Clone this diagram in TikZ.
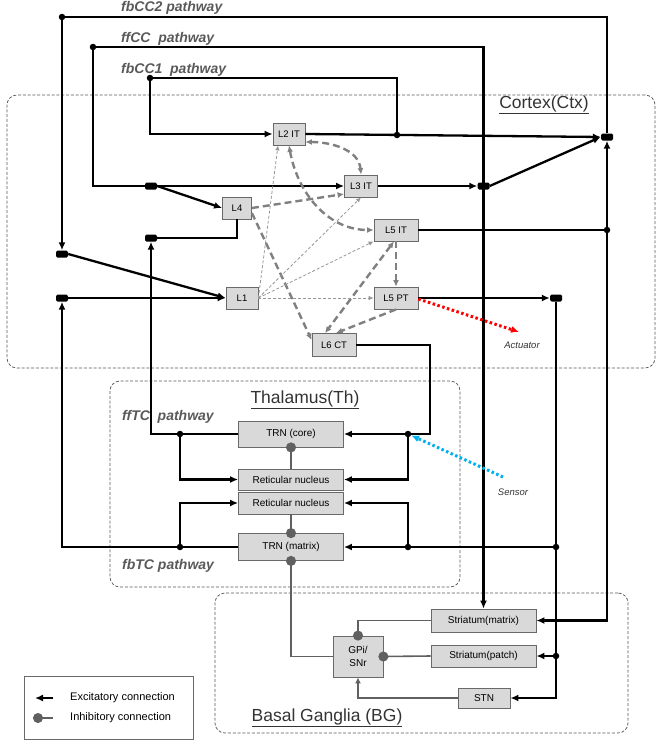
\documentclass[tikz,border=0pt]{standalone}
\usepackage{fontspec}
\setmainfont{Liberation Sans}
\usetikzlibrary{arrows.meta,positioning}
\definecolor{boxgray}{RGB}{217,217,217}
\definecolor{edgegray}{RGB}{105,105,105}
\definecolor{textgray}{RGB}{89,89,89}
\definecolor{inhgray}{RGB}{96,96,96}
\definecolor{dashgray}{RGB}{128,128,128}
\definecolor{thingray}{RGB}{150,150,150}
\definecolor{sensorblue}{RGB}{0,176,240}
\tikzset{%
  >={Latex[width=7pt,length=8pt]},
  gtip/.tip={Latex[width=6pt,length=6.5pt]},
  % Specifications for style of nodes:
         cell/.style = {rectangle, draw=edgegray, fill=boxgray, line width=0.8pt,
                        minimum height=22pt, inner sep=1pt,
                        font=\fontsize{9.5}{11}\selectfont},
      nucleus/.style = {cell, minimum width=105pt,
                        font=\fontsize{10}{13}\selectfont},
     junction/.style = {rectangle, rounded corners=1.5pt, fill=black,
                        minimum width=12pt, minimum height=7pt, inner sep=0pt},
          tap/.style = {circle, fill=black, minimum size=6.5pt, inner sep=0pt},
       region/.style = {draw=black!65, line width=0.75pt,
                        dash pattern=on 3pt off 1.8pt, rounded corners=10pt},
     areaname/.style = {text=black!80, font=\fontsize{17.5}{20}\selectfont},
      pathway/.style = {anchor=base west, inner sep=0pt, text=textgray,
                        font=\fontsize{14}{16}\selectfont\bfseries\itshape},
          cue/.style = {text=black!80, font=\fontsize{9.5}{11}\selectfont\itshape},
   legendtext/.style = {anchor=west, inner sep=0pt, font=\fontsize{11}{13}\selectfont},
  % Specifications for style of connections:
          exc/.style = {draw=black, line width=2.3pt, ->},
         wire/.style = {draw=black, line width=2.3pt},
          inh/.style = {draw=inhgray, line width=1.6pt,
                        -{Circle[length=10pt]}, shorten >=-5pt},
       inhexc/.style = {draw=inhgray, line width=1.6pt, -{Latex[width=6pt,length=6pt]}},
        intra/.style = {draw=dashgray, line width=2.4pt,
                        dash pattern=on 7pt off 4pt, -gtip},
     intratwo/.style = {intra, gtip-gtip},
        faint/.style = {draw=thingray, line width=0.8pt, dash pattern=on 3pt off 2pt,
                        -{Latex[width=4.5pt,length=5pt]}},
      actuate/.style = {draw=red, line width=3pt, dash pattern=on 2.5pt off 2.5pt,
                        -{Latex[width=7pt,length=8pt]}},
        sense/.style = {actuate, draw=sensorblue},
}
\begin{document}
\begin{tikzpicture}[x=1pt, y=-1pt]
  \useasboundingbox (0,0) rectangle (661,744);
  % Areas
  \node[region, minimum width=648pt, minimum height=273pt] (ctx) at (331,231.5) {};
  \node[region, minimum width=350pt, minimum height=206pt] (th) at (285,484) {};
  \node[region, minimum width=413pt, minimum height=140pt] (bg) at (421.5,663) {};
  \node[areaname] (ctxname) at (544,105) {\underline{Cortex(Ctx)}};
  \node[areaname] (thname) at (305,400) {\underline{Thalamus(Th)}};
  \node[areaname] (bgname) at (327,718) {\underline{Basal Ganglia (BG)}};
  \node[pathway] (fbcc2) at (121,12) {fbCC2 pathway};
  \node[pathway] (ffcc) at (121,42) {ffCC~ pathway};
  \node[pathway] (fbcc1) at (121,73) {fbCC1~ pathway};
  \node[pathway] (fftc) at (122,420) {ffTC~ pathway};
  \node[pathway] (fbtc) at (122,569) {fbTC pathway};

  % Specification of nodes (position, etc.)
  \node[cell, minimum width=32pt] (L2IT) at (289,134) {L2 IT};
  \node[cell, minimum width=33pt] (L3IT) at (361,186) {L3 IT};
  \node[cell, minimum width=29pt] (L4)   at (237,208) {L4};
  \node[cell, minimum width=44pt] (L5IT) at (396,230) {L5 IT};
  \node[cell, minimum width=32pt] (L1)   at (242,298) {L1};
  \node[cell, minimum width=44pt] (L5PT) at (396,298) {L5 PT};
  \node[cell, minimum width=44pt, minimum height=23pt] (L6CT) at (334,345) {L6 CT};
  % thalamus
  \node[nucleus, minimum height=26pt] (TRNc) at (291,434) {TRN (core)};
  \node[nucleus, minimum height=21pt] (ret1) at (291,479.5) {Reticular nucleus};
  \node[nucleus] (ret2) at (291,503) {Reticular nucleus};
  \node[nucleus, minimum height=27pt] (TRNm) at (291,547) {TRN (matrix)};
  % basal ganglia
  \node[nucleus, minimum height=23pt] (strmx) at (483.5,620.5) {Striatum(matrix)};
  \node[nucleus] (strpt) at (483.5,656) {Striatum(patch)};
  \node[nucleus, minimum width=52pt, minimum height=20pt] (STN) at (484,698) {STN};
  \node[nucleus, minimum width=50pt, minimum height=41pt, align=center] (GPi) at (358,656.5) {GPi/\\SNr};
  % junctions and branch points
  \node[junction] (jTR) at (607,137) {};
  \node[junction] (jL3) at (483.5,186) {};
  \node[junction] (jFF) at (151,186) {};
  \node[junction] (jL4) at (151,238) {};
  \node[junction] (jLA) at (62,254) {};
  \node[junction] (jLB) at (62,298) {};
  \node[junction] (jPT) at (556,298) {};
  \node[tap] (d2)     at (62,17) {};
  \node[tap] (dFF)    at (93,47) {};
  \node[tap] (d1)     at (150,78) {};
  \node[tap] (d1b)    at (397,135) {};
  \node[tap] (dL5)    at (607,230) {};
  \node[tap] (dcore)  at (180,434) {};
  \node[tap] (dcoreR) at (408,434) {};
  \node[tap] (dmat)   at (180,547) {};
  \node[tap] (dmatR)  at (408,547) {};
  \node[tap] (dPT)    at (556,547) {};
  \node[tap] (dpatch) at (556,656) {};
  \coordinate (bend6) at (430,434);

  % Specification of lines between nodes specified above
  % cortico-cortical pathways
  \draw[exc] (L2IT.east) -- (jTR.west);
  \draw[exc] (jL3.east) -- (jTR.west);
  \draw[exc] (L3IT.east) -- (jL3.west);
  \draw[exc] (dL5) -- (jTR.south);
  \draw[wire] (L5IT.east) -- (dL5);
  \draw[exc] (jTR.north) |- (d2) -- (jLA.north);
  \draw[exc] (dFF) -| (strmx.north);
  \draw[exc] (dFF) |- (L3IT.west);
  \draw[exc] (d1b) |- (d1) |- (L2IT.west);
  \draw[exc] (jFF.east) -- (L4.west);
  \draw[wire] (L4.south) |- (jL4.east);
  \draw[exc] (jLA.east) -- (L1.west);
  \draw[exc] (jLB.east) -- (L1.west);
  \draw[exc] (L5PT.east) -- (jPT.west);
  \draw[exc] (dL5) |- (strmx.east);
  % thalamo-cortical pathways
  \draw[exc] (TRNc.west) -| (jL4.south);
  \draw[exc] (dcore) |- (ret1.west);
  \draw[exc] (TRNm.west) -| (jLB.south);
  \draw[exc] (dmat) |- (ret2.west);
  \draw[exc] (L6CT.east) -| (bend6) -- (TRNc.east);
  \draw[exc] (dcoreR) |- (ret1.east);
  \draw[exc] (dPT) -- (TRNm.east);
  \draw[exc] (dmatR) |- (ret2.east);
  \draw[wire] (jPT.south) -- (dPT);
  \draw[exc] (dPT) |- (STN.east);
  \draw[exc] (dpatch) -- (strpt.east);
  % inhibitory
  \draw[inh] (ret1.north) -- (TRNc.south);
  \draw[inh] (ret2.south) -- (TRNm.north);
  \draw[inh] (GPi.west) -| (TRNm.south);
  \draw[inh] (strmx.west) -| (GPi.north);
  \draw[inh] (strpt.west) -- (GPi.east);
  \draw[inhexc] (STN.west) -| (GPi.south);
  % within the cortex
  \draw[intratwo] ([yshift=-8pt]L2IT.east) to[out=0, in=95] (L3IT.north);
  \draw[intratwo] (L2IT.south) to[out=-80, in=180] (L5IT.west);
  \draw[intra] (L4.east) -- ([yshift=-8pt]L3IT.west);
  \draw[intra] ([yshift=-5pt]L4.east) -- ([yshift=5pt]L6CT.west);
  \draw[intratwo] ([xshift=-2pt]L5IT.south) -- ([xshift=-9pt]L6CT.north);
  \draw[intra] (L5PT.south) -- ([xshift=2pt]L6CT.north);
  \draw[intra] (L5IT.south) -- (L5PT.north);
  \draw[faint] (L1.east) -- ([xshift=-11pt]L2IT.south);
  \draw[faint] (L1.east) -- (L3IT.south);
  \draw[faint] (L1.east) -- (L5IT.south west);
  \draw[faint] (L1.east) -- (L5PT.west);
  % actuator and sensor
  \coordinate (actEnd) at (519,332);
  \coordinate (senStart) at (503,477);
  \node[cue] (actuator) at (522,345) {Actuator};
  \node[cue] (sensor) at (513,492) {Sensor};
  \draw[actuate] ([yshift=-1pt]L5PT.east) -- (actEnd);
  \draw[sense] (senStart) -- (dcoreR);

  % legend
  \node[draw=edgegray, line width=0.8pt, minimum width=169pt, minimum height=63pt] (legend) at (108.5,707.5) {};
  \coordinate (lgE1) at (53,698);
  \coordinate (lgE2) at (35,698);
  \coordinate (lgI1) at (53,718);
  \coordinate (lgI2) at (38,718);
  \draw[exc, line width=1.8pt] (lgE1) -- (lgE2);
  \draw[inh] (lgI1) -- (lgI2);
  \node[legendtext] (lgEtext) at (70,698) {Excitatory connection};
  \node[legendtext] (lgItext) at (70,718) {Inhibitory connection};
\end{tikzpicture}
\end{document}
